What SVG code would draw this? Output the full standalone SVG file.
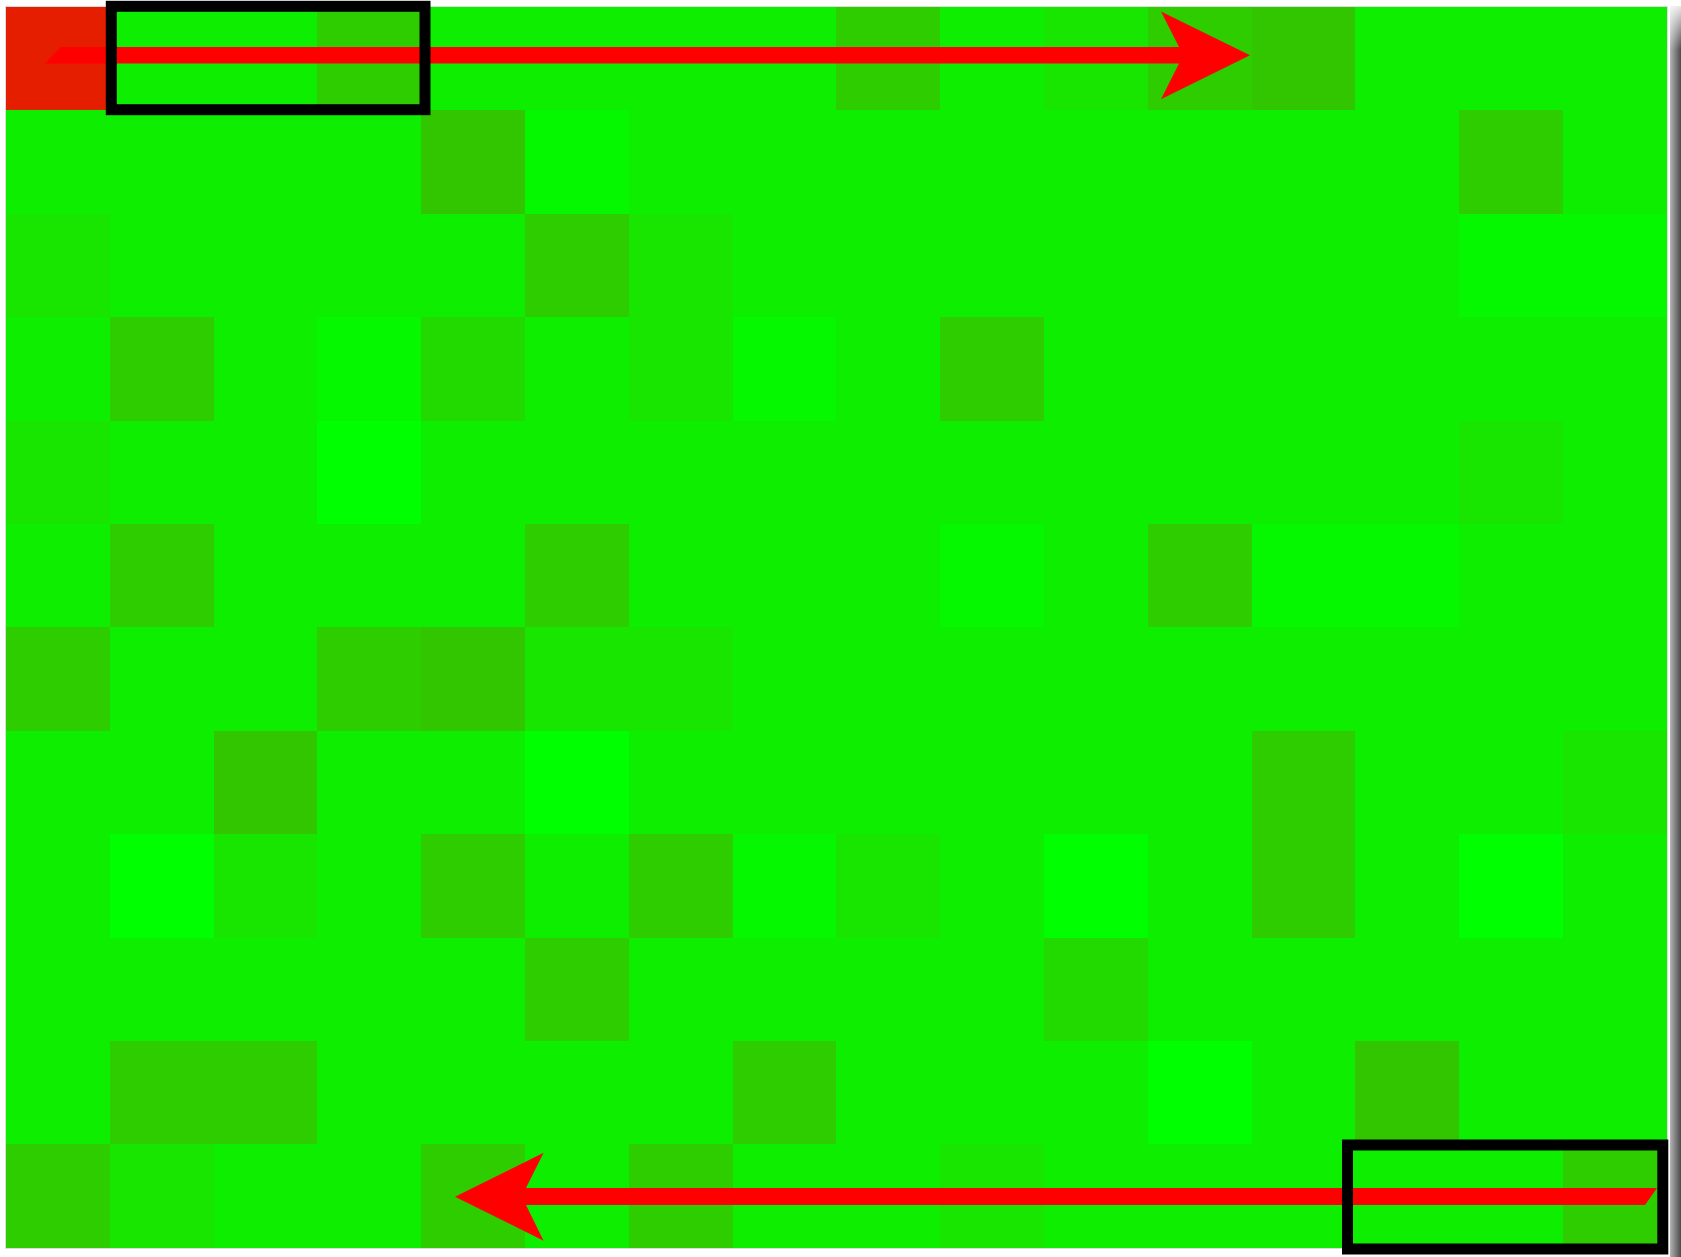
<svg xmlns="http://www.w3.org/2000/svg" width="1681" height="1257" viewBox="0 0 1681 1257">
  <style>
    .c { shape-rendering: crispEdges; }
    .r { fill: #e61e00; }
    .g { fill: #0eee00; }
    .b { fill: #05f800; }
    .B { fill: #00ff00; }
    .m { fill: #18e500; }
    .M { fill: #22da00; }
    .d { fill: #2dcd00; }
    .D { fill: #32c600; }
    .box { fill: none; stroke: #000000; stroke-width: 11; }
    .arrow { fill: #ff0000; }
  </style>
  <defs>
    <linearGradient id="shadowH" x1="0" y1="0" x2="1" y2="0">
      <stop offset="0" stop-color="#b4b4b4"/>
      <stop offset="1" stop-color="#4a4a4a"/>
    </linearGradient>
    <linearGradient id="shadowFade" x1="0" y1="0" x2="0" y2="1">
      <stop offset="0" stop-color="#ffffff" stop-opacity="1"/>
      <stop offset="1" stop-color="#ffffff" stop-opacity="0"/>
    </linearGradient>
  </defs>
  <rect x="0" y="0" width="1681" height="1257" fill="#ffffff"/>
  <g id="shadow">
    <rect x="1670" y="6" width="11" height="1251" fill="url(#shadowH)"/>
    <rect x="1670" y="0" width="11" height="50" fill="url(#shadowFade)"/>
  </g>
  <g id="grid">
    <rect x="5.5" y="6.5" width="1662" height="1242" fill="none" stroke="#dcdcdc" stroke-width="1"/>
    <rect class="c g" x="6" y="7" width="1661" height="1241"/>
    <!-- row 0 -->
    <rect class="c r" x="6" y="7" width="103.8" height="103.4"/>
    <rect class="c d" x="317.4" y="7" width="103.8" height="103.4"/>
    <rect class="c d" x="836.4" y="7" width="103.8" height="103.4"/>
    <rect class="c m" x="1044" y="7" width="103.8" height="103.4"/>
    <rect class="c d" x="1147.8" y="7" width="103.8" height="103.4"/>
    <rect class="c D" x="1251.6" y="7" width="103.8" height="103.4"/>
    <!-- row 1 -->
    <rect class="c D" x="421.2" y="110.4" width="103.8" height="103.4"/>
    <rect class="c b" x="525" y="110.4" width="103.8" height="103.4"/>
    <rect class="c d" x="1459.2" y="110.4" width="103.8" height="103.4"/>
    <!-- row 2 -->
    <rect class="c m" x="6" y="213.8" width="103.8" height="103.4"/>
    <rect class="c d" x="525" y="213.8" width="103.8" height="103.4"/>
    <rect class="c m" x="628.8" y="213.8" width="103.8" height="103.4"/>
    <rect class="c b" x="1459.2" y="213.8" width="103.8" height="103.4"/>
    <rect class="c b" x="1563" y="213.8" width="103.8" height="103.4"/>
    <!-- row 3 -->
    <rect class="c d" x="109.8" y="317.2" width="103.8" height="103.4"/>
    <rect class="c b" x="317.4" y="317.2" width="103.8" height="103.4"/>
    <rect class="c M" x="421.2" y="317.2" width="103.8" height="103.4"/>
    <rect class="c m" x="628.8" y="317.2" width="103.8" height="103.4"/>
    <rect class="c b" x="732.6" y="317.2" width="103.8" height="103.4"/>
    <rect class="c d" x="940.2" y="317.2" width="103.8" height="103.4"/>
    <!-- row 4 -->
    <rect class="c m" x="6" y="420.6" width="103.8" height="103.4"/>
    <rect class="c B" x="317.4" y="420.6" width="103.8" height="103.4"/>
    <rect class="c m" x="1459.2" y="420.6" width="103.8" height="103.4"/>
    <!-- row 5 -->
    <rect class="c d" x="109.8" y="524" width="103.8" height="103.4"/>
    <rect class="c d" x="525" y="524" width="103.8" height="103.4"/>
    <rect class="c b" x="940.2" y="524" width="103.8" height="103.4"/>
    <rect class="c d" x="1147.8" y="524" width="103.8" height="103.4"/>
    <rect class="c b" x="1251.6" y="524" width="103.8" height="103.4"/>
    <rect class="c b" x="1355.4" y="524" width="103.8" height="103.4"/>
    <!-- row 6 -->
    <rect class="c d" x="6" y="627.4" width="103.8" height="103.4"/>
    <rect class="c d" x="317.4" y="627.4" width="103.8" height="103.4"/>
    <rect class="c D" x="421.2" y="627.4" width="103.8" height="103.4"/>
    <rect class="c m" x="525" y="627.4" width="103.8" height="103.4"/>
    <rect class="c m" x="628.8" y="627.4" width="103.8" height="103.4"/>
    <!-- row 7 -->
    <rect class="c D" x="213.6" y="730.8" width="103.8" height="103.4"/>
    <rect class="c B" x="525" y="730.8" width="103.8" height="103.4"/>
    <rect class="c d" x="1251.6" y="730.8" width="103.8" height="103.4"/>
    <rect class="c m" x="1563" y="730.8" width="103.8" height="103.4"/>
    <!-- row 8 -->
    <rect class="c B" x="109.8" y="834.2" width="103.8" height="103.4"/>
    <rect class="c m" x="213.6" y="834.2" width="103.8" height="103.4"/>
    <rect class="c d" x="421.2" y="834.2" width="103.8" height="103.4"/>
    <rect class="c d" x="628.8" y="834.2" width="103.8" height="103.4"/>
    <rect class="c b" x="732.6" y="834.2" width="103.8" height="103.4"/>
    <rect class="c m" x="836.4" y="834.2" width="103.8" height="103.4"/>
    <rect class="c B" x="1044" y="834.2" width="103.8" height="103.4"/>
    <rect class="c d" x="1251.6" y="834.2" width="103.8" height="103.4"/>
    <rect class="c B" x="1459.2" y="834.2" width="103.8" height="103.4"/>
    <!-- row 9 -->
    <rect class="c d" x="525" y="937.6" width="103.8" height="103.4"/>
    <rect class="c M" x="1044" y="937.6" width="103.8" height="103.4"/>
    <!-- row 10 -->
    <rect class="c d" x="109.8" y="1041" width="103.8" height="103.4"/>
    <rect class="c d" x="213.6" y="1041" width="103.8" height="103.4"/>
    <rect class="c d" x="732.6" y="1041" width="103.8" height="103.4"/>
    <rect class="c B" x="1147.8" y="1041" width="103.8" height="103.4"/>
    <rect class="c D" x="1355.4" y="1041" width="103.8" height="103.4"/>
    <!-- row 11 -->
    <rect class="c d" x="6" y="1144.4" width="103.8" height="103.6"/>
    <rect class="c m" x="109.8" y="1144.4" width="103.8" height="103.6"/>
    <rect class="c d" x="421.2" y="1144.4" width="103.8" height="103.6"/>
    <rect class="c d" x="628.8" y="1144.4" width="103.8" height="103.6"/>
    <rect class="c m" x="940.2" y="1144.4" width="103.8" height="103.6"/>
    <rect class="c d" x="1563" y="1144.4" width="103.8" height="103.6"/>
  </g>
  <g id="connectors">
    <path class="arrow" d="M45,63.5 L61,47 L1179,47 L1161,11.5 L1250,55.3 L1161,99.3 L1179,63.5 Z"/>
    <path class="arrow" d="M1657,1188 L1645,1205 L526,1205 L543.6,1240.7 L455,1196.7 L543.6,1152.7 L526,1188 Z"/>
  </g>
  <g id="box-top">
    <rect class="box" x="111.3" y="6.3" width="313.7" height="103.4"/>
  </g>
  <g id="box-bottom">
    <rect class="box" x="1347.5" y="1145" width="315.3" height="104"/>
  </g>
</svg>
